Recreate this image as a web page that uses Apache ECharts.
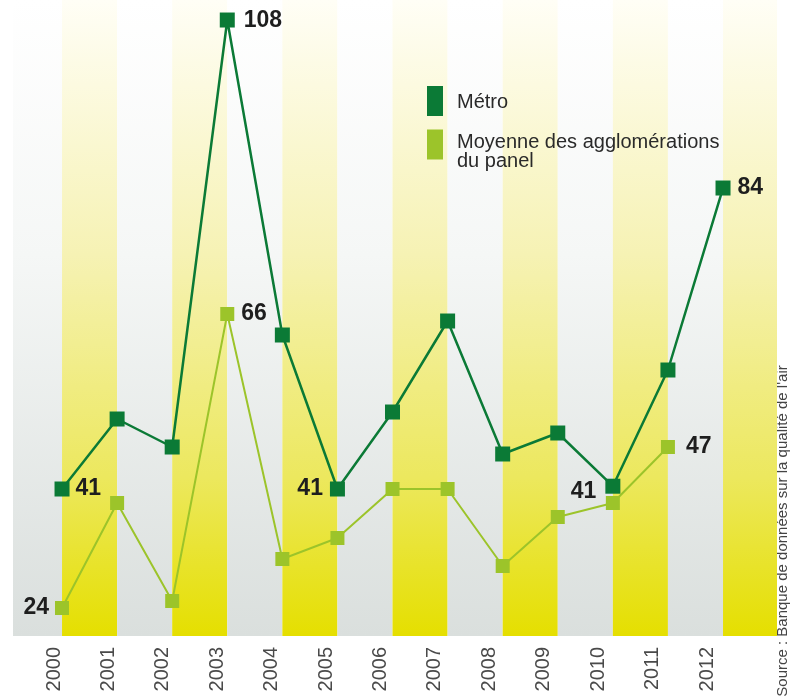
<!DOCTYPE html>
<html>
<head>
<meta charset="utf-8">
<script src="https://cdn.jsdelivr.net/npm/echarts@6/dist/echarts.min.js"></script>
<style>
html,body{margin:0;padding:0;background:#fff;}
#c{width:793px;height:697px;}
</style>
</head>
<body>
<div id="c"></div>
<script>
// ---- data ----
const years = [2000, 2001, 2002, 2003, 2004, 2005, 2006, 2007, 2008, 2009, 2010, 2011, 2012];
const yearLabels = ['2000','2001','2002','2003','2004','2005','2006','2007','2008','2009','2010','2011','2012'];
const metro = [41, 51, 47, 108, 63, 41, 52, 65, 46, 49, 41.4, 58, 84];
const moyenne = [24, 39, 25, 66, 31, 34, 41, 41, 30, 37, 39, 47, null];
const seriesNames = ['Métro', 'Moyenne des agglomérations du panel'];
const sourceText = "Source : Banque de données sur la qualité de l'air";

// labelled points: [index, position, distance, offsetY]
const metroLabels = [[0,'right',6,0],[3,'right',9,1],[5,'left',7,0],[10,'left',9,5],[12,'right',7,0]];
const moyLabels = [[0,'left',6,0],[3,'right',7,0],[11,'right',11,0]];

const Y_MIN = 20, Y_MAX = 110.86;
const X_MIN = 1999.11, X_MAX = 2012.98;

const DARK = '#0b7a36';
const LIGHT = '#9cc42a';
const labelFont = "'Liberation Sans','Arial',sans-serif";
const textFont = "'Liberation Sans','Arial',sans-serif";

// stripes: one per year interval, alternating
const stripes = [];
for (let y = years[0] - 1; y <= years[years.length - 1]; y++) {
  stripes.push([y, y + 1, (y - (years[0] - 1)) % 2]);
}

function buildData(vals, labels) {
  return vals.map((v, i) => {
    const l = labels.find(a => a[0] === i);
    const item = { value: [years[i], v] };
    if (l) {
      item.label = {
        show: true, position: l[1], distance: l[2], offset: [0, l[3]],
        formatter: p => String(Math.round(p.value[1])),
        fontFamily: labelFont, fontWeight: 'bold', fontSize: 23, color: '#1e1e1e'
      };
    }
    return item;
  });
}

const chart = echarts.init(document.getElementById('c'), null, { renderer: 'canvas' });

const option = {
  animation: false,
  backgroundColor: '#ffffff',
  grid: [
    { left: 13, right: 16, top: 0, bottom: 61 },
    { left: 54, right: 86, top: 0, bottom: 61 }
  ],
  xAxis: [
    { type: 'value', gridIndex: 0, min: X_MIN, max: X_MAX, show: false },
    { type: 'category', gridIndex: 1, data: yearLabels, boundaryGap: false,
      axisLine: { show: false }, axisTick: { show: false }, splitLine: { show: false },
      axisLabel: { rotate: 90, margin: 11, fontSize: 20, color: '#4a4a4a', fontFamily: textFont, interval: 0 } }
  ],
  yAxis: [
    { type: 'value', gridIndex: 0, min: Y_MIN, max: Y_MAX, show: false },
    { type: 'value', gridIndex: 1, show: false }
  ],
  legend: {
    orient: 'vertical', left: 427, top: 86, padding: 0,
    itemWidth: 16, itemHeight: 30, itemGap: 2,
    icon: 'rect',
    data: seriesNames,
    formatter: name => name === seriesNames[0] ? '{a|' + name + '}' : '{b|Moyenne des agglomérations}\n{b|du panel}',
    textStyle: {
      fontFamily: textFont, fontSize: 20, color: '#2a2a2a',
      rich: {
        a: { fontFamily: textFont, fontSize: 20, color: '#2a2a2a', padding: [3, 0, 0, 9] },
        b: { fontFamily: textFont, fontSize: 20, color: '#2a2a2a', lineHeight: 19, padding: [14, 0, 0, 9] }
      }
    }
  },
  graphic: [{
    type: 'text', x: 783, y: 531, rotation: Math.PI / 2,
    style: { text: sourceText, fontFamily: textFont, fontSize: 15, fill: '#444', align: 'center', verticalAlign: 'middle' }
  }],
  series: [
    {
      type: 'custom', xAxisIndex: 0, yAxisIndex: 0, z: 0, silent: true, clip: true,
      data: stripes,
      renderItem: (params, api) => {
        const p0 = api.coord([api.value(0), Y_MAX]);
        const p1 = api.coord([api.value(1), Y_MIN]);
        const yellow = api.value(2) === 1;
        return {
          type: 'rect',
          shape: { x: p0[0], y: p0[1], width: p1[0] - p0[0], height: p1[1] - p0[1] },
          style: {
            fill: {
              type: 'linear', x: 0, y: 0, x2: 0, y2: 1,
              colorStops: yellow
                ? [{ offset: 0, color: '#fffef6' }, { offset: 0.4, color: '#f6f2b4' }, { offset: 0.75, color: '#ece85e' }, { offset: 1, color: '#e5df00' }]
                : [{ offset: 0, color: '#ffffff' }, { offset: 0.4, color: '#f5f7f6' }, { offset: 1, color: '#dadfdd' }]
            }
          }
        };
      }
    },
    {
      name: seriesNames[1], type: 'line', xAxisIndex: 0, yAxisIndex: 0, z: 3,
      data: buildData(moyenne, moyLabels),
      symbol: 'rect', symbolSize: 14, showSymbol: true,
      lineStyle: { color: LIGHT, width: 2 },
      itemStyle: { color: LIGHT },
      label: { show: false }
    },
    {
      name: seriesNames[0], type: 'line', xAxisIndex: 0, yAxisIndex: 0, z: 4,
      data: buildData(metro, metroLabels),
      symbol: 'rect', symbolSize: 15, showSymbol: true,
      lineStyle: { color: DARK, width: 2.5 },
      itemStyle: { color: DARK },
      label: { show: false }
    }
  ]
};
chart.setOption(option);
</script>
</body>
</html>
